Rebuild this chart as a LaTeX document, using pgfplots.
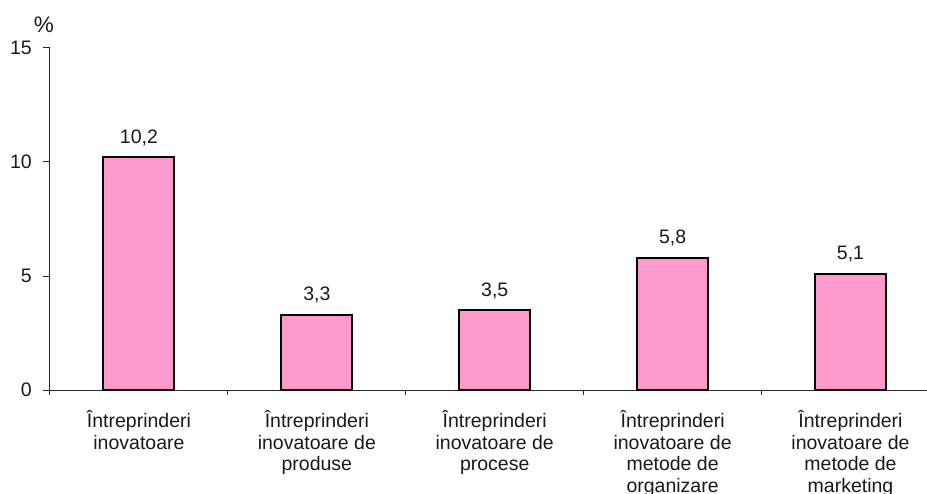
\documentclass[border=0pt]{standalone}
\usepackage{pgfplots}
\pgfplotsset{compat=1.18}
\usepackage{fontspec}
\setmainfont{Liberation Sans}
\definecolor{barpink}{RGB}{255,153,204}
\begin{document}
\begin{tikzpicture}
\useasboundingbox (-50pt,-103pt) rectangle (877pt,390pt);
\begin{axis}[
  at={(0pt,0pt)}, anchor=south west,
  scale only axis,
  width=877pt, height=342pt,
  xmin=-0.5, xmax=4.43,
  ymin=0, ymax=15,
  axis x line*=bottom, axis y line*=left,
  axis line style={-, line width=1pt, black!85},
  ytick={0,5,10,15},
  yticklabels={0,5,10,15},
  xtick={0,1,2,3,4},
  xticklabels={{Întreprinderi\\inovatoare},{Întreprinderi\\inovatoare de\\produse},{Întreprinderi\\inovatoare de\\procese},{Întreprinderi\\inovatoare de\\metode de\\organizare},{Întreprinderi\\inovatoare de\\metode de\\marketing}},
  minor xtick={-0.5,0.5,1.5,2.5,3.5},
  tick align=outside,
  major tick length=7pt,
  minor tick length=5pt,
  xtick style={draw=none},
  minor x tick style={draw=black!85, line width=1pt},
  ytick style={line width=1pt, black!85},
  /pgf/number format/assume math mode=true,
  /pgf/number format/use comma,
  /pgf/number format/fixed,
  /pgf/number format/fixed zerofill,
  /pgf/number format/precision=1,
  ticklabel style={font={\fontsize{19.5}{21.6}\selectfont}, black!90},
  xticklabel style={align=center, anchor=north, inner sep=0pt, yshift=-13.5pt},
  yticklabel style={anchor=east, inner sep=0pt, xshift=-11pt},
  clip=false,
]
\addplot[ybar, bar width=71pt, fill=barpink, draw=black, line width=2pt,
  nodes near coords,
  every node near coord/.append style={anchor=base, yshift=14pt, inner sep=0pt, black!90, font={\fontsize{19.5}{22.5}\selectfont}},
] coordinates {(0,10.2) (1,3.3) (2,3.5) (3,5.8) (4,5.1)};
\node[font={\fontsize{22.5}{26}\selectfont}, inner sep=0pt, black!90] at (axis cs:-0.5,15) [xshift=-6pt, yshift=23pt] {\%};
\end{axis}
\end{tikzpicture}
\end{document}
